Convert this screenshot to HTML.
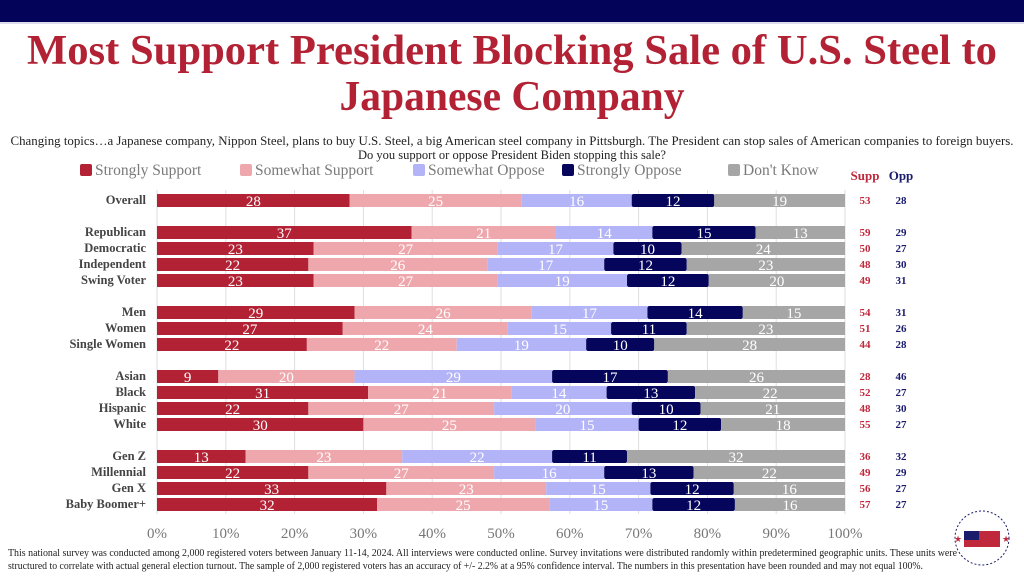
<!DOCTYPE html>
<html><head><meta charset="utf-8"><style>
html,body{margin:0;padding:0;background:#fff;}
svg{display:block;font-family:"Liberation Serif",serif;}
</style></head><body>
<svg id="chart" width="1024" height="576" viewBox="0 0 1024 576">
<rect x="0" y="0" width="1024" height="22" fill="#03035a"/>
<line x1="0" y1="23" x2="1024" y2="23" stroke="#b8b8d8" stroke-width="1"/>
<text x="512" y="64" text-anchor="middle" font-size="42" font-weight="bold" fill="#b22234" textLength="970" lengthAdjust="spacingAndGlyphs">Most Support President Blocking Sale of U.S. Steel to</text>
<text x="512" y="110" text-anchor="middle" font-size="42" font-weight="bold" fill="#b22234" textLength="345" lengthAdjust="spacingAndGlyphs">Japanese Company</text>
<text x="512" y="145" text-anchor="middle" font-size="12.5" fill="#222" textLength="1003" lengthAdjust="spacingAndGlyphs">Changing topics…a Japanese company, Nippon Steel, plans to buy U.S. Steel, a big American steel company in Pittsburgh. The President can stop sales of American companies to foreign buyers.</text>
<text x="512" y="159" text-anchor="middle" font-size="12.5" fill="#222">Do you support or oppose President Biden stopping this sale?</text>
<g id="legend"></g>
<text x="865" y="180" text-anchor="middle" font-size="13" font-weight="bold" fill="#c0283c">Supp</text>
<text x="901" y="180" text-anchor="middle" font-size="13" font-weight="bold" fill="#1c1c6c">Opp</text>
<g id="grid"></g><g id="bars"></g><g id="axis"></g>
<text x="8" y="556" font-size="10" fill="#222" textLength="949" lengthAdjust="spacingAndGlyphs">This national survey was conducted among 2,000 registered voters between January 11-14, 2024.  All interviews were conducted online. Survey invitations were distributed randomly within predetermined geographic units. These units were</text>
<text x="8" y="569" font-size="10" fill="#222" textLength="915" lengthAdjust="spacingAndGlyphs">structured to correlate with actual general election turnout. The sample of 2,000 registered voters has an accuracy of +/- 2.2% at a 95% confidence interval. The numbers in this presentation have been rounded and may not equal 100%.</text>
<g>
<circle cx="982" cy="538" r="27" fill="#fff" stroke="#1c1c6c" stroke-width="1" stroke-dasharray="2 2"/>
<rect x="964" y="531" width="36" height="16" fill="#c0283c"/>
<rect x="964" y="531" width="15" height="9" fill="#1c1c6c"/>
<text x="954" y="542" font-size="9" fill="#c0283c">★</text>
<text x="1002" y="542" font-size="9" fill="#c0283c">★</text>
</g>
<script>
const categories=["Overall","Republican","Democratic","Independent","Swing Voter","Men","Women","Single Women","Asian","Black","Hispanic","White","Gen Z","Millennial","Gen X","Baby Boomer+"];
const strongSupport=[28,37,23,22,23,29,27,22,9,31,22,30,13,22,33,32];
const somewhatSupport=[25,21,27,26,27,26,24,22,20,21,27,25,23,27,23,25];
const somewhatOppose=[16,14,17,17,19,17,15,19,29,14,20,15,22,16,15,15];
const strongOppose=[12,15,10,12,12,14,11,10,17,13,10,12,11,13,12,12];
const dontKnow=[19,13,24,23,20,15,23,28,26,22,21,18,32,22,16,16];
const suppTotals=[53,59,50,48,49,54,51,44,28,52,48,55,36,49,56,57];
const oppTotals=[28,29,27,30,31,31,26,28,46,27,30,27,32,29,27,27];
const seriesNames=["Strongly Support","Somewhat Support","Somewhat Oppose","Strongly Oppose","Don't Know"];
const ticks=[0,10,20,30,40,50,60,70,80,90,100];
const colors=["#b22234","#eea8ad","#b3b3f7","#05055c","#a6a6a6"];
const rowY=[200,232,248,264,280,312,328,344,376,392,408,424,456,472,488,504];
const X0=157,X1=845;
const x=v=>X0+(X1-X0)*v/100;
const NS="http://www.w3.org/2000/svg";
function mk(t,a,p){const e=document.createElementNS(NS,t);for(const k in a)e.setAttribute(k,a[k]);p.appendChild(e);return e;}
const grid=document.getElementById('grid'),bars=document.getElementById('bars'),axis=document.getElementById('axis'),legend=document.getElementById('legend');
ticks.forEach(t=>{
  const l=mk('line',{x1:x(t),x2:x(t),y1:190,y2:514,stroke:'#dedede','stroke-width':1},grid);
  
  
  const tx=mk('text',{x:x(t),y:538,'text-anchor':'middle','font-size':15,fill:'#777'},axis);
  tx.textContent=t+'%';
  
  
});
const legX=[80,240,413,562,728];
seriesNames.forEach((n,i)=>{
  const r=mk('rect',{x:legX[i],y:164,width:12,height:12,rx:2,fill:colors[i]},legend);
  
  
  const t=mk('text',{x:legX[i]+15,y:175,'font-size':15.5,fill:'#7a7a7a'},legend);
  t.textContent=n;
  
  
});
const series=[strongSupport,somewhatSupport,somewhatOppose,strongOppose,dontKnow];
categories.forEach((c,i)=>{
  const y=rowY[i];
  const lb=mk('text',{x:146,y:y+4,'text-anchor':'end','font-size':12.5,'font-weight':'bold',fill:'#444'},bars);
  lb.textContent=c;
  
  
  const tot=series.reduce((s,a)=>s+a[i],0);
  let cum=0;
  series.forEach((a,j)=>{
    const v=a[i]*100/tot;
    const r=mk('rect',{x:x(cum),y:y-6,width:x(cum+v)-x(cum),height:13,fill:colors[j],rx:j==3?2:0},bars);
    
    
    const t=mk('text',{x:x(cum+v/2),y:y+6,'text-anchor':'middle','font-size':15,fill:'#fff'},bars);
    t.textContent=a[i];
    
    
    cum+=v;
  });
  const s=mk('text',{x:865,y:y+4,'text-anchor':'middle','font-size':11,'font-weight':'bold',fill:'#c0283c'},bars);
  s.textContent=suppTotals[i];
  
  
  const o=mk('text',{x:901,y:y+4,'text-anchor':'middle','font-size':11,'font-weight':'bold',fill:'#1c1c6c'},bars);
  o.textContent=oppTotals[i];
  
  
});
</script>
</svg>
</body></html>
